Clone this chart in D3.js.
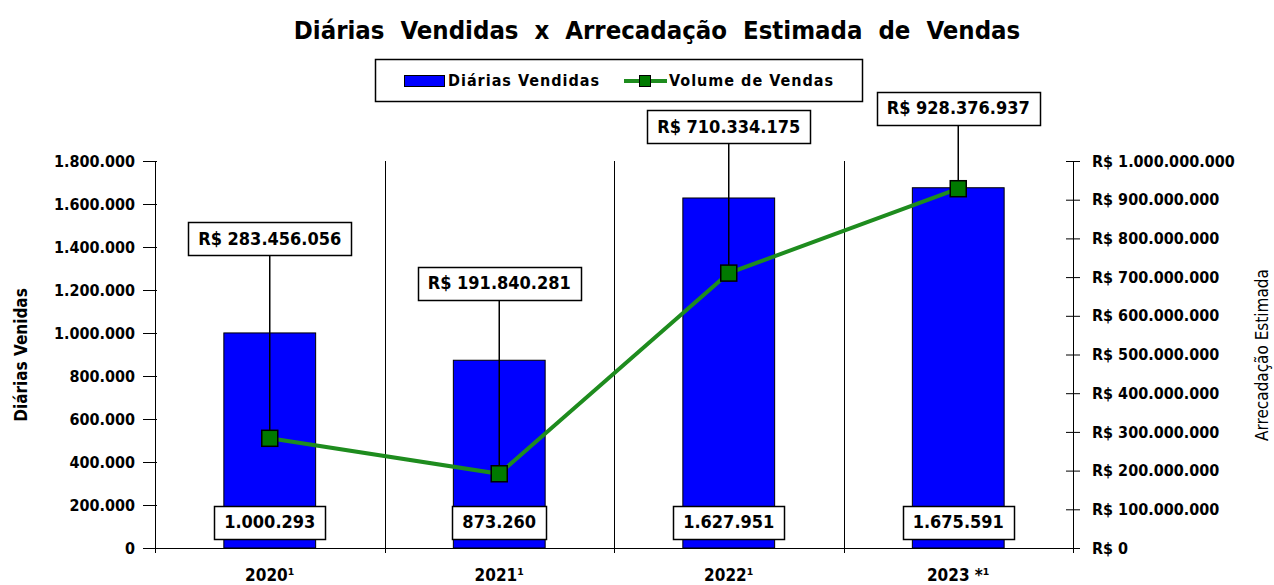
<!DOCTYPE html>
<html><head><meta charset="utf-8">
<script src="https://cdn.jsdelivr.net/npm/d3@7"></script>
<style>body{margin:0;background:#fff}svg{display:block}text{font-family:"DejaVu Sans Condensed","DejaVu Sans",sans-serif;}</style>
</head><body><svg id="c" width="1274" height="585"></svg>
<script>
const categories = ["2020", "2021", "2022", "2023"];
const categorySuffix = ["¹", "¹", "¹", " *¹"];
const diariasVendidas = [1000293, 873260, 1627951, 1675591];
const volumeVendas = [283456056, 191840281, 710334175, 928376937];
const leftTicks = [0, 200000, 400000, 600000, 800000, 1000000, 1200000, 1400000, 1600000, 1800000];
const rightTicks = [0, 100000000, 200000000, 300000000, 400000000, 500000000, 600000000, 700000000, 800000000, 900000000, 1000000000];
const labelRaise = [183, 174, 130, 64];

const loc = d3.formatLocale({decimal: ",", thousands: ".", grouping: [3], currency: ["R$ ", ""]});
const fmt = loc.format(",d");
const svg = d3.select("#c");
const L = 155, R = 1073, T = 161, B = 548;
const x = d3.scaleBand().domain(categories).range([L, R]);
const yL = d3.scaleLinear().domain([0, 1800000]).range([B, T]);
const yR = d3.scaleLinear().domain([0, 1000000000]).range([B, T]);

// title
svg.append("text").attr("x", 657).attr("y", 39).attr("text-anchor", "middle")
  .attr("font-size", 25.5).attr("font-weight", "bold").attr("word-spacing", 8)
  .text("Diárias Vendidas x Arrecadação Estimada de Vendas");

// legend
const lg = svg.append("g");
lg.append("rect").attr("x", 375.5).attr("y", 59.5).attr("width", 487).attr("height", 42).attr("fill", "#fff").attr("stroke", "#000").attr("stroke-width", 1.5);
lg.append("rect").attr("x", 404.5).attr("y", 75.5).attr("width", 40).attr("height", 11).attr("fill", "#0000ff").attr("stroke", "#000");
lg.append("text").attr("x", 448).attr("y", 86).attr("font-size", 16).attr("letter-spacing", 1).attr("font-weight", "bold").text("Diárias Vendidas");
lg.append("line").attr("x1", 624).attr("x2", 667).attr("y1", 81).attr("y2", 81).attr("stroke", "#1e8c1e").attr("stroke-width", 4);
lg.append("rect").attr("x", 639.5).attr("y", 75.5).attr("width", 11).attr("height", 11).attr("fill", "#007a00").attr("stroke", "#000");
lg.append("text").attr("x", 669).attr("y", 86).attr("font-size", 16).attr("letter-spacing", 1).attr("font-weight", "bold").text("Volume de Vendas");

// dividers
svg.append("g").selectAll("line").data(categories.slice(1)).join("line")
  .attr("x1", d => Math.round(x(d)) + 0.5).attr("x2", d => Math.round(x(d)) + 0.5)
  .attr("y1", T).attr("y2", B + 5).attr("stroke", "#000").attr("stroke-width", 1);

// axes
const axL = svg.append("g").attr("transform", `translate(${L},0)`)
  .call(d3.axisLeft(yL).tickValues(leftTicks).tickFormat(d => fmt(d)).tickSize(12).tickPadding(8));
axL.selectAll(".tick line").attr("x2", -12).attr("x1", 2);
const axR = svg.append("g").attr("transform", `translate(${R},0)`)
  .call(d3.axisRight(yR).tickValues(rightTicks).tickFormat(d => "R$ " + fmt(d)).tickSize(7).tickPadding(12));
axR.selectAll(".tick line").attr("x1", -7);
[axL, axR].forEach(a => {
  a.select(".domain").remove();
  a.selectAll(".tick text").attr("font-size", 16).attr("font-weight", "bold").attr("fill", "#000").style("font-family", '"DejaVu Sans Condensed","DejaVu Sans",sans-serif');
  a.selectAll(".tick line").attr("stroke", "#000");
});
svg.append("line").attr("x1", L + 0.5).attr("x2", L + 0.5).attr("y1", T).attr("y2", B + 5).attr("stroke", "#000");
svg.append("line").attr("x1", R + 0.5).attr("x2", R + 0.5).attr("y1", T).attr("y2", B + 5).attr("stroke", "#000");
svg.append("line").attr("x1", L - 5).attr("x2", R + 5).attr("y1", B + 0.5).attr("y2", B + 0.5).attr("stroke", "#000");

// x labels
const xl = svg.append("g").selectAll("text").data(categories).join("text")
  .attr("x", d => x(d) + x.bandwidth() / 2).attr("y", 581).attr("text-anchor", "middle")
  .attr("font-size", 17).attr("font-weight", "bold");
xl.append("tspan").text(d => d);
xl.append("tspan").text((d, i) => categorySuffix[i]);

// axis titles
svg.append("text").attr("transform", "translate(27,355) rotate(-90)").attr("text-anchor", "middle")
  .attr("font-size", 17).attr("font-weight", "bold").text("Diárias Venidas");
svg.append("text").attr("transform", "translate(1268,355) rotate(-90)").attr("text-anchor", "middle")
  .attr("font-size", 17).text("Arrecadação Estimada");

// bars
const bw = x.bandwidth() * 0.4;
svg.append("g").selectAll("rect").data(diariasVendidas).join("rect")
  .attr("x", (d, i) => x(categories[i]) + (x.bandwidth() - bw) / 2)
  .attr("y", d => yL(d)).attr("width", bw).attr("height", d => B - yL(d))
  .attr("fill", "#0000ff").attr("stroke", "#000").attr("stroke-width", 1);

// leader lines
const cx = i => x(categories[i]) + x.bandwidth() / 2;
svg.append("g").selectAll("line").data(volumeVendas).join("line")
  .attr("x1", (d, i) => cx(i)).attr("x2", (d, i) => cx(i))
  .attr("y1", (d, i) => yR(d) - labelRaise[i]).attr("y2", d => yR(d))
  .attr("stroke", "#000").attr("stroke-width", 1.5);

// line
svg.append("path").datum(volumeVendas)
  .attr("d", d3.line().x((d, i) => cx(i)).y(d => yR(d)))
  .attr("fill", "none").attr("stroke", "#1e8c1e").attr("stroke-width", 4);
svg.append("g").selectAll("rect").data(volumeVendas).join("rect")
  .attr("x", (d, i) => cx(i) - 8).attr("y", d => yR(d) - 8).attr("width", 16).attr("height", 16)
  .attr("fill", "#007a00").attr("stroke", "#000").attr("stroke-width", 1.5);

// value labels helper
function boxLabel(g, cxv, cyv, txt, size) {
  const t = g.append("text").attr("x", cxv).attr("y", cyv + size * 0.36).attr("text-anchor", "middle")
    .attr("font-size", size).attr("font-weight", "bold").text(txt);
  const bb = t.node().getBBox();
  g.insert("rect", "text").attr("x", Math.round(bb.x - 10) + 0.5).attr("y", Math.round(cyv - 16) + 0.5)
    .attr("width", Math.round(bb.width + 20)).attr("height", 33)
    .attr("fill", "#fff").attr("stroke", "#000").attr("stroke-width", 1.5);
}
volumeVendas.forEach((v, i) => {
  const g = svg.append("g");
  boxLabel(g, cx(i), yR(v) - labelRaise[i] - 17, loc.format("$,d")(v), 18);
});
diariasVendidas.forEach((v, i) => {
  const g = svg.append("g");
  boxLabel(g, cx(i), 522, fmt(v), 18);
});
</script></body></html>
